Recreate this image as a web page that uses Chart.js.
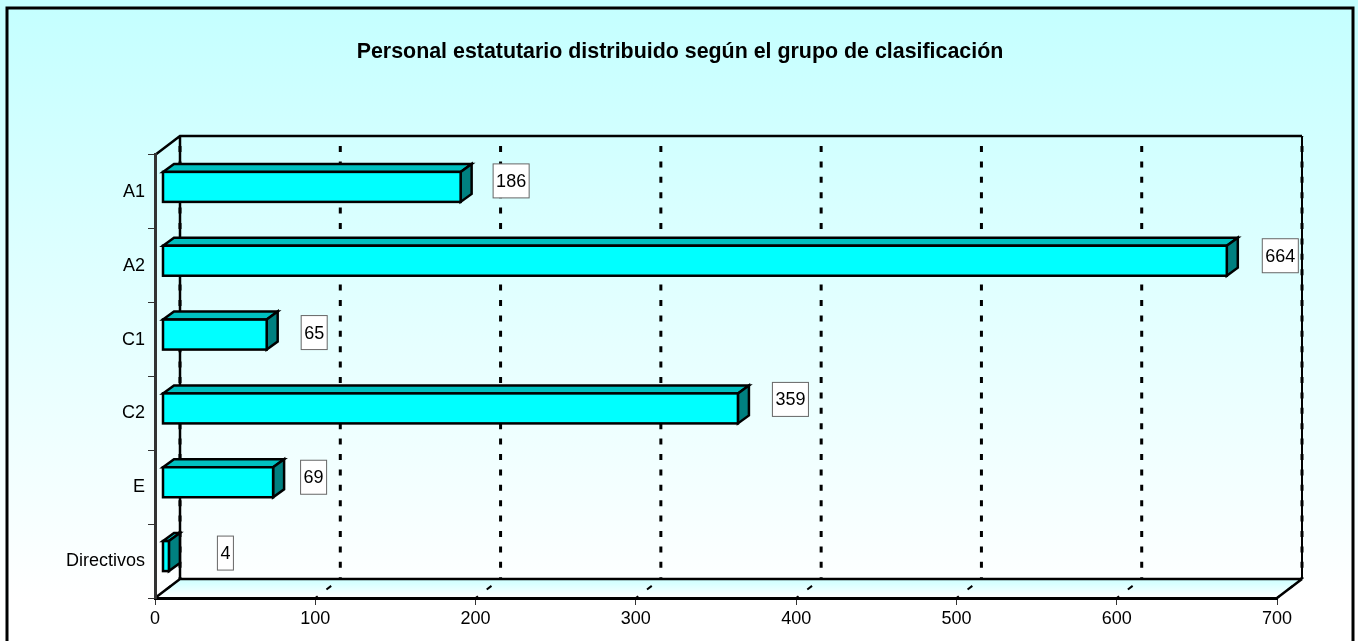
<!DOCTYPE html>
<html>
<head>
<meta charset="utf-8">
<title>Personal estatutario</title>
<script src="https://cdn.jsdelivr.net/npm/chart.js@4"></script>
<style>
  html, body { margin: 0; padding: 0; background: #fff; overflow: hidden; }
  canvas { display: block; }
</style>
</head>
<body>
<canvas id="grupoChart" width="1358" height="641"></canvas>
<script>
const titleText = 'Personal estatutario distribuido según el grupo de clasificación';
const categories = ['A1', 'A2', 'C1', 'C2', 'E', 'Directivos'];
const personal = [186, 664, 65, 359, 69, 4];
const axisMax = 700;
const axisStep = 100;
// the value labels were moved by hand in the original, so each has its own nudge
const labelNudgeX = [0, 3, -3, 2, -10, 6];
const labelNudgeY = [-1, 0, 3, -4, 0, 2];

const FONT = '"Liberation Sans", Arial, sans-serif';
const wallDx = 25, wallDy = -19;   // depth of the back wall
const barDx = 7.5, barDy = -5;     // bars sit a little inside the depth
const capDx = 11, capDy = -8;      // depth of a bar
const heavy = 2.5;

function poly(ctx, pts, fill, stroke, lw) {
  ctx.beginPath();
  pts.forEach((p, i) => i ? ctx.lineTo(p[0], p[1]) : ctx.moveTo(p[0], p[1]));
  ctx.closePath();
  if (fill) { ctx.fillStyle = fill; ctx.fill(); }
  if (stroke) { ctx.strokeStyle = stroke; ctx.lineWidth = lw; ctx.stroke(); }
}

// Panel, back wall, floor and dashed grid
const box3d = {
  id: 'box3d',
  afterLayout(chart) {
    // title is centred on the whole panel, not on the plot
    chart.titleBlock.left = 0;
    chart.titleBlock.right = 1360;
  },
  beforeDraw(chart) {
    const { ctx, chartArea: a, scales: { x } } = chart;
    const bg = ctx.createLinearGradient(0, 0, 0, 600);
    bg.addColorStop(0, '#c4ffff');
    bg.addColorStop(1, '#ffffff');
    ctx.save();
    ctx.fillStyle = bg;
    ctx.fillRect(0, 0, chart.width, chart.height);
    ctx.strokeStyle = '#000';
    ctx.lineWidth = 3;
    ctx.strokeRect(7, 8, 1346, 660);

    // floor
    const fg = ctx.createLinearGradient(0, a.bottom + wallDy, 0, a.bottom);
    fg.addColorStop(0, '#ccffff');
    fg.addColorStop(1, '#ffffff');
    poly(ctx, [[a.left, a.bottom], [a.left + wallDx, a.bottom + wallDy],
      [a.right + wallDx, a.bottom + wallDy], [a.right, a.bottom]], fg);

    // grid on the wall and the floor
    ctx.strokeStyle = '#000';
    ctx.lineWidth = 3;
    ctx.setLineDash([6, 9.4]);
    ctx.lineDashOffset = 5.4;
    x.ticks.forEach(t => {
      const px = x.getPixelForValue(t.value);
      ctx.beginPath();
      ctx.moveTo(px + wallDx, a.top + wallDy);
      ctx.lineTo(px + wallDx, a.bottom + wallDy);
      ctx.stroke();
    });
    ctx.lineWidth = 2;
    ctx.setLineDash([3, 11, 6, 11]);
    ctx.lineDashOffset = 0;
    x.ticks.forEach(t => {
      const px = x.getPixelForValue(t.value);
      ctx.beginPath();
      ctx.moveTo(px, a.bottom);
      ctx.lineTo(px + wallDx, a.bottom + wallDy);
      ctx.stroke();
    });
    ctx.setLineDash([]);

    // wall outline
    ctx.lineWidth = heavy;
    ctx.beginPath();
    ctx.moveTo(a.left, a.top);
    ctx.lineTo(a.left + wallDx, a.top + wallDy);
    ctx.lineTo(a.right + wallDx, a.top + wallDy);
    ctx.moveTo(a.right + wallDx, a.bottom + wallDy);
    ctx.lineTo(a.right, a.bottom);
    ctx.moveTo(a.left + wallDx, a.top + wallDy);
    ctx.lineTo(a.left + wallDx, a.bottom + wallDy);
    ctx.lineTo(a.right + wallDx, a.bottom + wallDy);
    ctx.moveTo(a.left + wallDx, a.bottom + wallDy);
    ctx.lineTo(a.left, a.bottom);
    ctx.stroke();
    ctx.lineWidth = 2;
    ctx.beginPath();
    ctx.moveTo(a.right + wallDx, a.top + wallDy);
    ctx.lineTo(a.right + wallDx, a.bottom + wallDy);
    ctx.stroke();
    ctx.restore();
  },
  beforeDatasetsDraw(chart) {
    const { ctx } = chart;
    ctx.save();
    ctx.translate(barDx, barDy);
    // top and side of each bar, the face comes from the library
    chart.getDatasetMeta(0).data.forEach(bar => {
      const half = bar.height / 2;
      const l = bar.base, r = bar.x, t = bar.y - half, b = bar.y + half;
      poly(ctx, [[l, t], [l + capDx, t + capDy], [r + capDx, t + capDy], [r, t]], '#00c0c0', '#000', heavy);
      poly(ctx, [[r, t], [r + capDx, t + capDy], [r + capDx, b + capDy], [r, b]], '#008080', '#000', heavy);
    });
  },
  afterDatasetsDraw(chart) {
    const { ctx, scales: { x, y } } = chart;
    // outline of the faces, centred on the edge
    chart.getDatasetMeta(0).data.forEach(bar => {
      const half = bar.height / 2;
      ctx.strokeStyle = '#000';
      ctx.lineWidth = heavy;
      ctx.strokeRect(bar.base, bar.y - half, bar.x - bar.base, bar.height);
    });
    ctx.restore();
    ctx.save();
    ctx.font = '18px ' + FONT;
    ctx.textAlign = 'center';
    ctx.textBaseline = 'middle';
    personal.forEach((v, i) => {
      const cx = x.getPixelForValue(v) + 58 + labelNudgeX[i];
      const cy = y.getPixelForValue(i) - 10 + labelNudgeY[i];
      const w = ctx.measureText(String(v)).width + 6;
      ctx.fillStyle = '#fff';
      ctx.fillRect(cx - w / 2, cy - 17, w, 34);
      ctx.strokeStyle = '#666';
      ctx.lineWidth = 1;
      ctx.strokeRect(cx - w / 2, cy - 17, w, 34);
      ctx.fillStyle = '#000';
      ctx.fillText(String(v), cx, cy + 1);
    });
    ctx.restore();
  }
};

new Chart(document.getElementById('grupoChart'), {
  type: 'bar',
  data: {
    labels: categories,
    datasets: [{
      data: personal,
      backgroundColor: '#00ffff',
      borderWidth: 0,
      barThickness: 30,
      clip: false
    }]
  },
  options: {
    indexAxis: 'y',
    responsive: false,
    animation: false,
    layout: { padding: { right: 81 } },
    plugins: {
      legend: { display: false },
      tooltip: { enabled: false },
      title: {
        display: true,
        text: titleText,
        color: '#000',
        font: { family: FONT, size: 21.4, weight: 'bold', lineHeight: 1.2 },
        padding: { top: 39, bottom: 90.3 }
      }
    },
    scales: {
      x: {
        min: 0,
        max: axisMax,
        afterFit(s) { s.height = 43; },
        ticks: { stepSize: axisStep, color: '#000', font: { family: FONT, size: 18 }, padding: 3, maxRotation: 0 },
        grid: { drawOnChartArea: false, color: '#333', tickLength: 7 },
        border: { color: '#000', width: 3 }
      },
      y: {
        afterFit(s) { s.width = 155; },
        ticks: { color: '#000', font: { family: FONT, size: 18 }, padding: 3 },
        grid: { drawOnChartArea: false, color: '#333', tickLength: 7 },
        border: { color: '#333', width: 3 }
      }
    }
  },
  plugins: [box3d]
});
</script>
</body>
</html>
